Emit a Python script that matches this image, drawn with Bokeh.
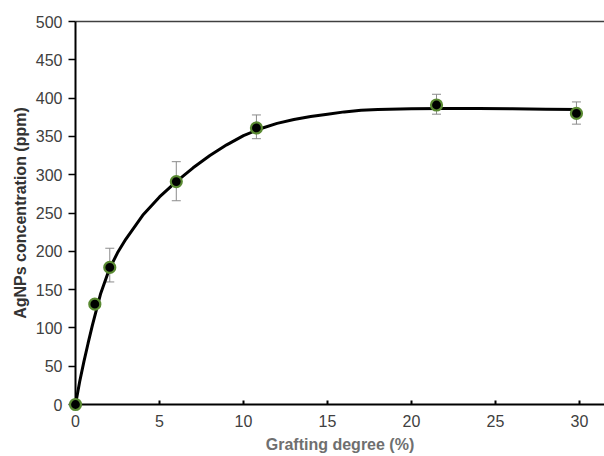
from bokeh.plotting import figure
from bokeh.models import ColumnDataSource, Whisker, TeeHead, LinearAxis, Range1d
from bokeh.embed import file_html
from bokeh.resources import INLINE

# Data
grafting = [0.0, 1.15, 2.04, 6.0, 10.77, 21.49, 29.82]
conc = [0, 131, 179, 291, 361, 391, 380]
err_low = [0, 131, 160, 266, 347, 379, 366]
err_high = [0, 131, 204, 317, 378, 405, 395]

curve_x = [0, 0.25, 0.5, 0.75, 1.0, 1.5, 2.0, 2.5, 3, 4, 5, 6, 7, 8, 9, 10, 11, 12, 13, 14, 15, 16, 17, 18, 20, 22, 24, 26, 28, 30]
curve_y = [0, 30, 56, 80, 103, 145, 176, 198, 216, 247, 271, 291, 309, 325, 339, 351, 360, 367, 372, 376, 379, 382, 384, 385, 386, 386.5, 386.5, 386, 385.5, 385]

x_ticks = [0, 5, 10, 15, 20, 25, 30]
y_ticks = [0, 50, 100, 150, 200, 250, 300, 350, 400, 450, 500]

FONT = "Liberation Sans"

p = figure(width=604, height=456, output_backend="svg", toolbar_location=None,
           x_range=Range1d(0, 31.49), y_range=Range1d(0, 500),
           min_border_left=75, min_border_right=0, min_border_top=21, min_border_bottom=52)
p.outline_line_color = None
p.grid.visible = False
p.background_fill_color = "white"

# error bars
err_src = ColumnDataSource(dict(x=grafting, lower=err_low, upper=err_high))
wh = Whisker(source=err_src, base="x", lower="lower", upper="upper",
             line_color="#8c8c8c", line_width=1,
             upper_head=TeeHead(size=9, line_color="#8c8c8c", line_width=1),
             lower_head=TeeHead(size=9, line_color="#8c8c8c", line_width=1))
wh.level = "underlay"
p.add_layout(wh)

# fitted curve
p.line(curve_x, curve_y, line_color="black", line_width=3)

# data points (overlay level so the origin point is not clipped)
pts = p.scatter(grafting, conc, size=11, fill_color="black", line_color="#5a8a32", line_width=2.2)
pts.level = "overlay"

# axes
xa = p.xaxis[0]
xa.ticker = x_ticks
xa.minor_tick_line_color = None
xa.major_tick_in = 4
xa.major_tick_out = 0
xa.axis_line_width = 2
xa.axis_line_color = "black"
xa.major_tick_line_width = 2
xa.major_tick_line_color = "black"
xa.major_label_standoff = 10
xa.major_label_text_font = FONT
xa.major_label_text_font_size = "16px"
xa.major_label_text_color = "#404040"
xa.axis_label = "Grafting degree (%)"
xa.axis_label_text_font = FONT
xa.axis_label_text_font_size = "16px"
xa.axis_label_text_font_style = "bold"
xa.axis_label_text_color = "#6f6f6f"
xa.axis_label_standoff = 6

ya = p.yaxis[0]
ya.ticker = y_ticks
ya.minor_tick_line_color = None
ya.major_tick_in = 0
ya.major_tick_out = 7
ya.axis_line_width = 2
ya.axis_line_color = "black"
ya.major_tick_line_width = 1.5
ya.major_tick_line_color = "black"
ya.major_label_standoff = 6
ya.major_label_text_font = FONT
ya.major_label_text_font_size = "16px"
ya.major_label_text_color = "#404040"
ya.axis_label = "AgNPs concentration (ppm)"
ya.axis_label_text_font = FONT
ya.axis_label_text_font_size = "16px"
ya.axis_label_text_font_style = "bold"
ya.axis_label_text_color = "#333333"
ya.axis_label_standoff = 4

top = LinearAxis(ticker=[], major_label_text_font_size="0px",
                 major_tick_line_color=None, minor_tick_line_color=None,
                 axis_line_color="#404040", axis_line_width=1.5)
p.add_layout(top, "above")

open("out.html", "w").write(file_html(p, INLINE))
